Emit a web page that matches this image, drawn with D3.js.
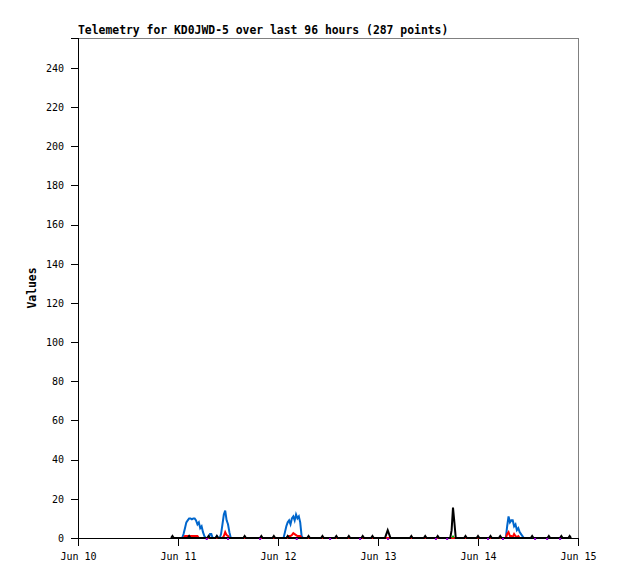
<!DOCTYPE html>
<html>
<head>
<meta charset="utf-8">
<script src="https://cdn.jsdelivr.net/npm/d3@7"></script>
<style>
  body { margin: 0; background: #fff; }
  text { font-family: "DejaVu Sans Mono", "Liberation Mono", monospace; }
</style>
</head>
<body>
<svg id="chart"></svg>
<script>
// hours since Jun 10 00:00, value
const title = "Telemetry for KD0JWD-5 over last 96 hours (287 points)";
const yTicks = [0, 20, 40, 60, 80, 100, 120, 140, 160, 180, 200, 220, 240];
const xTickLabels = ["Jun 10", "Jun 11", "Jun 12", "Jun 13", "Jun 14", "Jun 15"];

const blue = [
  [25.0,0],[25.33,2],[25.67,5],[26.0,8],[26.33,9],[26.67,10],[27.0,10],[27.33,9.5],[27.67,10],[28.0,10],
  [28.33,9],[28.67,7],[29.0,8],[29.33,5],[29.67,6],[30.0,3],[30.33,1],[30.67,0],
  [31.33,0],[31.67,2],[32.0,2],[32.33,0],[33.0,0],[33.33,1],[33.67,0],
  [34.0,0],[34.33,2],[34.67,7],[35.0,12],[35.33,14],[35.67,9],[36.0,7],[36.33,3],[36.67,0],
  [49.33,0],[49.67,3],[50.0,6],[50.33,8],[50.67,9],[51.0,7],[51.33,10],[51.67,11],[52.0,9],[52.33,12],
  [52.67,10],[53.0,11],[53.33,8],[53.67,1],[54.0,0],
  [102.67,0],[103.0,6],[103.33,11],[103.67,8],[104.0,9],[104.33,9],[104.67,6],[105.0,7],[105.33,4],
  [105.67,5],[106.0,3],[106.33,2],[106.67,1],[107.0,0]
];

const red = [
  [25.33,0],[25.67,1],[26.0,1],[26.33,1],[26.67,1],[27.0,1],[27.33,1],[27.67,1],[28.0,1],[28.33,1],[28.67,1],[29.0,0],
  [34.67,0],[35.0,1],[35.33,3],[35.67,1.5],[36.0,1],[36.33,0],
  [50.33,0],[50.67,1],[51.0,1],[51.33,1.5],[51.67,2.5],[52.0,2],[52.33,1.5],[52.67,1],[53.0,1],[53.33,1],[53.67,0],
  [102.67,0],[103.0,2],[103.33,3],[103.67,1],[104.0,1],[104.33,0.5],[104.67,2],[105.0,1],[105.33,0.5],[105.67,1],[106.0,0]
];

const black = [
  [22.33,0],[22.67,1],[23.0,0],[26.33,0],[26.67,1],[27.0,0],[31.0,0],[31.33,1],[31.67,0],
  [33.0,0],[33.33,1],[33.67,0],[39.67,0],[40.0,1],[40.33,0],[43.67,0],[44.0,1],[44.33,0],
  [46.67,0],[47.0,1],[47.33,0],[50.0,0],[50.33,1],[50.67,0],[55.0,0],[55.33,1],[55.67,0],
  [58.33,0],[58.67,1],[59.0,0],[61.67,0],[62.0,1],[62.33,0],[64.67,0],[65.0,1],[65.33,0],
  [68.0,0],[68.33,1],[68.67,0],[70.33,0],[70.67,1],[71.0,0],
  [73.67,0],[74.0,2],[74.33,4],[74.67,2],[75.0,0],
  [79.67,0],[80.0,1],[80.33,0],[83.0,0],[83.33,1],[83.67,0],[86.0,0],[86.33,1],[86.67,0],
  [89.33,0],[89.67,4],[90.0,15.5],[90.33,8],[90.67,0],
  [92.67,0],[93.0,1],[93.33,0],[95.67,0],[96.0,1],[96.33,0],[98.67,0],[99.0,1],[99.33,0],
  [101.0,0],[101.33,1],[101.67,0],[108.67,0],[109.0,1],[109.33,0],[112.67,0],[113.0,1],[113.33,0],
  [115.67,0],[116.0,1],[116.33,0],[117.67,0],[118.0,1],[118.33,0]
];

const purple = [30.9, 36.0, 43.7, 52.5, 60.5, 67.7, 74.4, 85.9, 88.6, 98.4, 102.0, 109.7, 112.6, 115.7];
const green = [[90.0, 0.7]];

const width = 618, height = 579;
const margin = { left: 78, right: 40, top: 38, bottom: 41 };
const day0 = new Date(2023, 5, 10);
const hoursToDate = h => new Date(day0.getTime() + h * 3600e3);

const svg = d3.select("#chart").attr("width", width).attr("height", height);

const x = d3.scaleTime()
  .domain([day0, hoursToDate(120)])
  .range([margin.left, width - margin.right]);
const y = d3.scaleLinear()
  .domain([0, 255.3])
  .range([height - margin.bottom, margin.top]);

// frame
svg.append("rect")
  .attr("x", margin.left).attr("y", margin.top)
  .attr("width", width - margin.left - margin.right)
  .attr("height", height - margin.top - margin.bottom)
  .attr("fill", "none").attr("stroke", "#808080").attr("stroke-width", 1)
  .attr("shape-rendering", "crispEdges");

// y axis
const yAxis = svg.append("g")
  .attr("transform", `translate(${margin.left},0)`)
  .call(d3.axisLeft(y).tickValues(yTicks).tickSize(7).tickPadding(7));
yAxis.select(".domain").attr("stroke", "#000").attr("shape-rendering", "crispEdges");
yAxis.selectAll(".tick line").attr("shape-rendering", "crispEdges");
yAxis.selectAll("text").attr("font-size", "10px").attr("font-family", "DejaVu Sans Mono").attr("fill", "#000");

// x axis
const xAxis = svg.append("g")
  .attr("transform", `translate(0,${height - margin.bottom})`)
  .call(d3.axisBottom(x)
    .tickValues(xTickLabels.map((d, i) => hoursToDate(i * 24)))
    .tickFormat((d, i) => xTickLabels[i])
    .tickSize(8).tickPadding(7));
xAxis.select(".domain").attr("stroke", "#000").attr("shape-rendering", "crispEdges");
xAxis.selectAll(".tick line").attr("shape-rendering", "crispEdges");
xAxis.selectAll("text").attr("font-size", "10px").attr("font-family", "DejaVu Sans Mono").attr("fill", "#000");

const line = d3.line()
  .x(d => x(hoursToDate(d[0])))
  .y(d => y(d[1]));

function drawSeries(data, color) {
  svg.append("path")
    .datum(data)
    .attr("fill", "none")
    .attr("stroke", color)
    .attr("stroke-width", 2)
    .attr("stroke-linejoin", "miter")
    .attr("d", line);
}

drawSeries(blue, "#0066cc");
drawSeries(red, "#ff0000");
drawSeries(black, "#000000");

svg.selectAll(".purple")
  .data(purple)
  .enter().append("rect")
  .attr("x", d => x(hoursToDate(d)) - 1)
  .attr("y", y(0))
  .attr("width", 2).attr("height", 2)
  .attr("fill", "#9400d3");

svg.selectAll(".green")
  .data(green)
  .enter().append("rect")
  .attr("x", d => x(hoursToDate(d[0])) - 1)
  .attr("y", d => y(d[1]) - 1)
  .attr("width", 2).attr("height", 2)
  .attr("fill", "#00c000");

// title
svg.append("text")
  .attr("x", margin.left)
  .attr("y", 34)
  .attr("font-size", "11.4px")
  .attr("font-weight", "bold")
  .text(title);

// y label
svg.append("text")
  .attr("transform", `translate(36,${(margin.top + height - margin.bottom) / 2}) rotate(-90)`)
  .attr("text-anchor", "middle")
  .attr("font-size", "11.4px")
  .attr("font-weight", "bold")
  .text("Values");
</script>
</body>
</html>
